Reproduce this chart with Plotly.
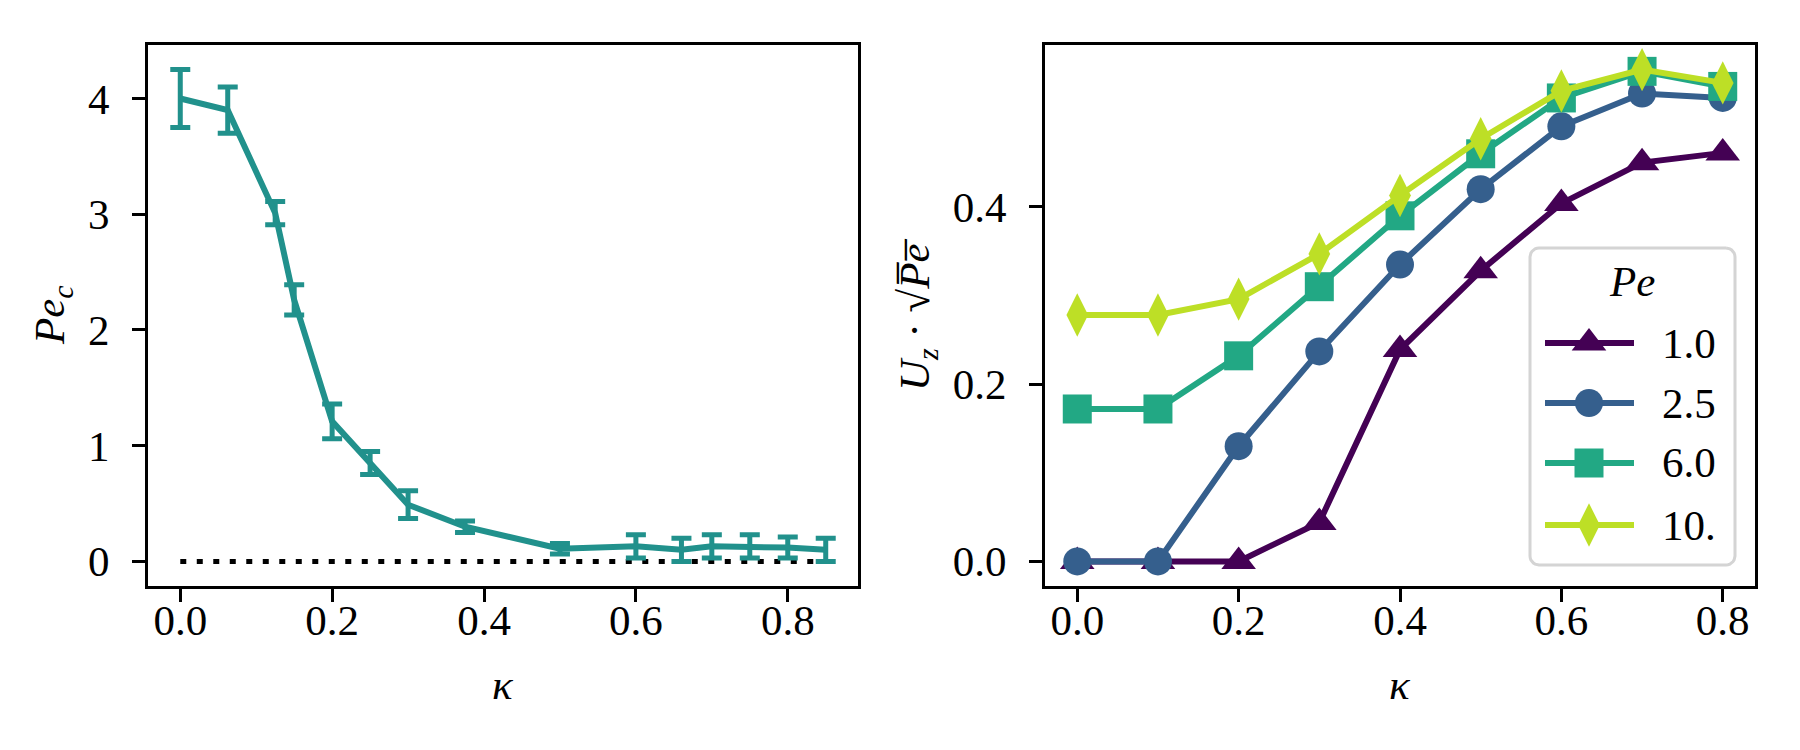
import numpy as np
import plotly.graph_objects as go

# left panel: critical Pe vs kappa
kappa_c = [0.0, 0.0625, 0.125, 0.15, 0.2, 0.25, 0.3, 0.375, 0.5, 0.6, 0.66, 0.7, 0.75, 0.8, 0.85]
pe_c = [4.0, 3.9, 3.01, 2.26, 1.21, 0.85, 0.49, 0.30, 0.11, 0.13, 0.10, 0.13, 0.13, 0.12, 0.10]
pe_c_err = [0.25, 0.2, 0.1, 0.13, 0.15, 0.1, 0.12, 0.05, 0.045, 0.1, 0.1, 0.1, 0.1, 0.09, 0.1]

# right panel: Uz*sqrt(Pe) vs kappa for several Pe
kappa = [0.0, 0.1, 0.2, 0.3, 0.4, 0.5, 0.6, 0.7, 0.8]
pe_labels = ["1.0", "2.5", "6.0", "10."]
uz_pe1 = [0.0, 0.0, 0.0, 0.044, 0.239, 0.328, 0.404, 0.450, 0.461]
uz_pe2 = [0.0, 0.0, 0.130, 0.237, 0.335, 0.420, 0.491, 0.528, 0.523]
uz_pe6 = [0.172, 0.172, 0.232, 0.310, 0.390, 0.460, 0.523, 0.553, 0.536]
uz_pe10 = [0.278, 0.278, 0.296, 0.347, 0.413, 0.477, 0.531, 0.555, 0.540]

colors = ["#440154", "#355f8d", "#22a884", "#bddf26"]
symbols = ["triangle-up", "circle", "square", "diamond-tall"]
sizes = [30, 28, 29, 31]

FONT = "Liberation Serif"
W, H = 1800, 750

fig = go.Figure()

fig.add_trace(go.Scatter(
    x=[kappa_c[0], kappa_c[-1]], y=[0, 0], mode="lines",
    line=dict(color="black", width=5, dash="6px,10.5px"),
    showlegend=False, xaxis="x", yaxis="y"))

fig.add_trace(go.Scatter(
    x=kappa_c, y=pe_c, mode="lines",
    line=dict(color="#21918c", width=6),
    error_y=dict(type="data", array=pe_c_err, color="#21918c", thickness=5, width=10),
    showlegend=False, xaxis="x", yaxis="y"))

for vals, lab, c, s, sz in zip([uz_pe1, uz_pe2, uz_pe6, uz_pe10], pe_labels, colors, symbols, sizes):
    fig.add_trace(go.Scatter(
        x=kappa, y=vals, mode="lines+markers", name=lab,
        line=dict(color=c, width=6),
        marker=dict(symbol=s, size=sz, color=c, opacity=1, line=dict(width=0)),
        showlegend=False, xaxis="x2", yaxis="y2"))

# legend drawn on a pixel-coordinate overlay axis (x3/y3)
lx0, lx1, ly0, ly1, rad = 1530, 1735, 248, 565, 9
corners = [(lx1 - rad, ly0 + rad, -90, 0), (lx1 - rad, ly1 - rad, 0, 90),
           (lx0 + rad, ly1 - rad, 90, 180), (lx0 + rad, ly0 + rad, 180, 270)]
bx, by = [], []
for cx, cy, a0, a1 in corners:
    t = np.radians(np.linspace(a0, a1, 8))
    bx += list(cx + rad * np.cos(t))
    by += list(cy + rad * np.sin(t))
bx.append(bx[0])
by.append(by[0])
fig.add_trace(go.Scatter(
    x=bx, y=by, mode="lines", fill="toself", fillcolor="rgba(255,255,255,0.85)",
    line=dict(color="#d4d4d4", width=3), showlegend=False, hoverinfo="skip",
    xaxis="x3", yaxis="y3"))

row_y = [343, 403, 463, 525]
for ry, lab, c, s, sz in zip(row_y, pe_labels, colors, symbols, sizes):
    fig.add_trace(go.Scatter(
        x=[1545, 1589, 1634], y=[ry, ry, ry], mode="lines+markers",
        line=dict(color=c, width=6),
        marker=dict(symbol=s, size=[0, sz, 0], color=c, opacity=1, line=dict(width=0)),
        showlegend=False, hoverinfo="skip", xaxis="x3", yaxis="y3"))

axis_style = dict(
    showgrid=False, zeroline=False, showline=True, mirror=True,
    linecolor="black", linewidth=3,
    ticks="outside", ticklen=13, tickwidth=3, tickcolor="black",
    tickfont=dict(family=FONT, size=43, color="black"),
)
xs = dict(axis_style, ticklabelstandoff=-19)
ys = dict(axis_style, ticklabelstandoff=14)

dom_y = [1 - 586 / H, 1 - 45 / H]
hidden = dict(visible=False, showgrid=False, zeroline=False, domain=[0, 1], fixedrange=True)

fig.update_layout(
    width=W, height=H,
    margin=dict(l=0, r=0, t=0, b=0),
    paper_bgcolor="white", plot_bgcolor="rgba(0,0,0,0)",
    showlegend=False,
    xaxis=dict(xs, domain=[148 / W, 858 / W], range=[-0.0425, 0.8925],
               tickvals=[0, 0.2, 0.4, 0.6, 0.8], ticktext=["0.0", "0.2", "0.4", "0.6", "0.8"]),
    yaxis=dict(ys, domain=dom_y, range=[-0.2125, 4.4625],
               tickvals=[0, 1, 2, 3, 4], ticktext=["0", "1", "2", "3", "4"]),
    xaxis2=dict(xs, domain=[1045 / W, 1755 / W], range=[-0.04, 0.84], anchor="y2",
                tickvals=[0, 0.2, 0.4, 0.6, 0.8], ticktext=["0.0", "0.2", "0.4", "0.6", "0.8"]),
    yaxis2=dict(ys, domain=dom_y, range=[-0.02775, 0.58275], anchor="x2",
                tickvals=[0, 0.2, 0.4], ticktext=["0.0", "0.2", "0.4"]),
    xaxis3=dict(hidden, range=[0, W], anchor="y3"),
    yaxis3=dict(hidden, range=[H, 0], anchor="x3"),
    font=dict(family=FONT, color="black"),
)

label_font = dict(family=FONT, size=43, color="black")


def note(x, y, text, angle=0, xanchor="center"):
    fig.add_annotation(x=x / W, y=1 - y / H, xref="paper", yref="paper",
                       xanchor=xanchor, yanchor="middle", textangle=angle,
                       text=text, showarrow=False, font=label_font)


note(503, 684, "<i>κ</i>")
note(1400, 684, "<i>κ</i>")
note(53, 315, "<i>Pe</i><sub><i>c</i></sub>", angle=-90)
note(918, 315, "<i>U</i><sub><i>z</i></sub> · √<i>P̅e̅</i>", angle=-90)
note(1632, 281, "<i>Pe</i>")
for ry, lab in zip(row_y, pe_labels):
    note(1660, ry, lab, xanchor="left")

# drop the default page margin so the figure sits at the window corner
fig.write_html("out.html", config={"displayModeBar": False},
               post_script="document.body.style.margin='0';")
